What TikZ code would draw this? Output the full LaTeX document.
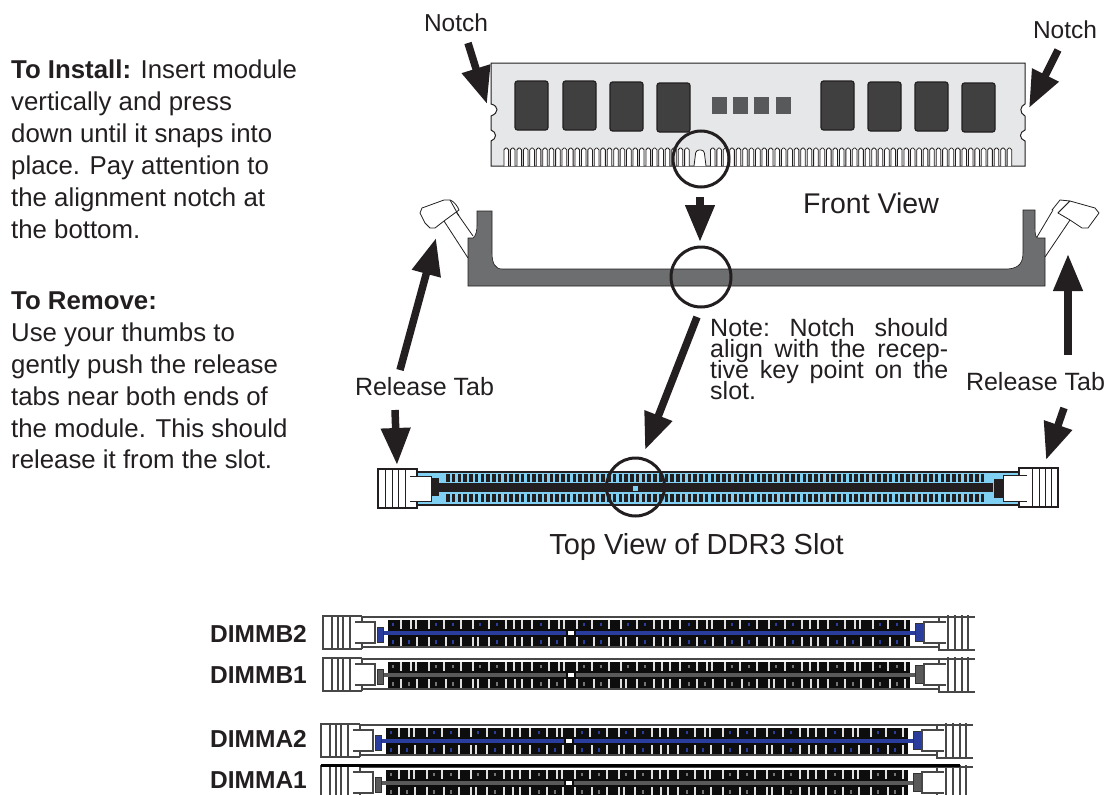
\documentclass[tikz,border=0pt]{standalone}
\usepackage{fontspec}
\setmainfont{Liberation Sans}
\usetikzlibrary{arrows.meta}
\definecolor{ink}{HTML}{231F20}
\definecolor{modgray}{HTML}{E6E7E8}
\definecolor{chipgray}{HTML}{404041}
\definecolor{sqgray}{HTML}{58595B}
\definecolor{slotgray}{HTML}{6D6E70}
\definecolor{keyblue}{HTML}{80D0F4}
\definecolor{dimblue}{HTML}{2A3C9C}
\tikzset{
 bigarrow/.style={draw=ink,line width=7.5pt,-{Triangle[length=37pt,width=28pt,fill=ink]}},
 ringmark/.style={draw=ink,line width=3pt,circle,minimum size=#1,inner sep=0pt,fill=none},
 lbl/.style={font=\fontsize{24.5}{26}\selectfont,text=ink,inner sep=0pt},
 para/.style={font=\fontsize{25.8}{31.9}\selectfont,text=ink,inner sep=0pt,anchor=north west,align=left},
 dimlbl/.style={font=\fontsize{24.5}{28}\selectfont\bfseries,text=ink,inner sep=0pt,anchor=west},
 chip/.style={draw=ink,fill=chipgray,line width=1.2pt,rounded corners=2.5pt},
 thinline/.style={draw=ink,line width=0.8pt,fill=white,line join=round},
 slotline/.style={draw=black!72,line width=1.4pt},
 tickmark/.style={fill=black!12}
}
\newcommand{\dimmslot}[4]{%
 % #1 dx, #2 centre y, #3 bar colour, #4 dot colour
 \begin{scope}[shift={(#1,#2)}]
  \draw[slotline] (38,-16)--(652,-16);
  \draw[slotline] (38,14)--(616,14);
  \fill[black!95] (65,-13) rectangle (587,13);
  \begin{scope}
   \clip (65,-14) rectangle (587,14);
   \foreach \kk in {-148,0,148,296,444}{
    \foreach \xx in {0,8,16,26,43,53,58,71,86,103,115,131}{
      \fill[tickmark] (182+\kk+\xx,-13) rectangle ++(2,9);}
    \foreach \xx in {0,9,16,26,43,59,71,88,103,115,120,131}{
      \fill[tickmark] (182+\kk+\xx,4) rectangle ++(2,9);}
    \foreach \xx in {35,78,95,122,139}{
      \fill[#4] (182+\kk+\xx,-10.5) rectangle ++(2,3.5);}
    \foreach \xx in {35,51,78,95,139}{
      \fill[#4] (182+\kk+\xx,7) rectangle ++(2,3.5);}
   }
  \end{scope}
  \fill[#3] (60,-2.3) rectangle (243,2.3);
  \fill[#3] (253,-2.3) rectangle (592,2.3);
  \fill[black!95] (243,-2.3) rectangle (253,2.3);
  \fill[white] (245,-2) rectangle (251,2);
  % left clip
  \draw[slotline,line width=1.6pt] (39,-17)--(0,-17)--(0,16)--(39,16);
  \draw[slotline] (39,-17)--(39,-11);
  \draw[slotline] (39,16)--(39,10);
  \draw[slotline,fill=white,line width=1.6pt] (32,-11)--(52,-11)--(52,10)--(32,10);
  \foreach \xx in {9,15,20,27}{\draw[slotline,line width=1.2pt] (\xx,-17)--(\xx,16);}
  \fill[#3,draw=black!80,line width=.8pt] (54,-6) rectangle (60,9);
  % right clip
  \fill[#3,draw=black!80,line width=.8pt] (592,-10) rectangle (601,8);
  \draw[slotline,fill=white,line width=1.6pt] (623,-11)--(601,-11)--(601,10)--(623,10);
  \draw[slotline] (616,-16)--(616,-11);
  \draw[slotline,line width=1.6pt] (616,10)--(616,17)--(652,17);
  \foreach \xx in {625,632,639,645}{\draw[slotline,line width=1.2pt] (\xx,-18)--(\xx,17);}
 \end{scope}}
\begin{document}
\begin{tikzpicture}[x=1pt,y=-1pt]
\useasboundingbox (0,0) rectangle (1106,795);
% texts
\node[para] (inst) at (11,60) {\textbf{To Install:} Insert module\\vertically and press\\down until it snaps into\\place. Pay attention to\\the alignment notch at\\the bottom.};
\node[para] (rem) at (11,291.5) {\textbf{To Remove:}\\Use your thumbs to\\gently push the release\\tabs near both ends of\\the module.  This should\\release it from the slot.};
% module
\draw[draw=ink,line width=1pt,fill=modgray] (491,63)--(1025,63)--(1025,104)
  .. controls (1020,106) and (1019,113) .. (1025,116) -- (1025,130)
  .. controls (1019,132) and (1019,139) .. (1025,141) -- (1025,166)--(491,166)--(491,141)
  .. controls (497,139) and (497,132) .. (491,130) -- (491,116)
  .. controls (499,113) and (499,106) .. (491,104) --cycle;
\foreach \cx/\cy in {515/81,563/81,610/82,657/83,821/81,868/82,915/82,962/83}{\path[chip] (\cx,\cy) rectangle ++(33,49);}
\foreach \sx in {712,733,754,776}{\fill[sqgray] (\sx,97) rectangle ++(15,17);}
\foreach \tx in {504,510.45,...,1010}{
 \ifdim\tx pt<688pt \draw[draw=ink,line width=.8pt,fill=white,rounded corners=1.8pt] (\tx,166)--(\tx,148)--(\tx+4.6,148)--(\tx+4.6,166);\else\ifdim\tx pt>708pt \draw[draw=ink,line width=.8pt,fill=white,rounded corners=1.8pt] (\tx,166)--(\tx,148)--(\tx+4.6,148)--(\tx+4.6,166);\fi\fi}
\draw[draw=ink,line width=.8pt,fill=white,rounded corners=3pt] (694,166)--(696,150)--(704,150)--(706,166);
\node[ringmark=56pt] (modring) at (701,159) {};
\node[lbl] (notchl) at (456,23) {Notch};
\node[lbl] (notchr) at (1065,30) {Notch};
\node[lbl,font=\fontsize{28.5}{32}\selectfont] (front) at (871,203) {Front View};
\coordinate (al) at (468,43); \coordinate (atl) at (487,104);
\coordinate (ar) at (1058,50); \coordinate (atr) at (1029,108);
\draw[bigarrow] (al)--(atl);
\draw[bigarrow] (ar)--(atr);
% slot front view
\fill[slotgray,draw=ink,line width=.6pt] (468,286)--(468,238)--(473,238)
 .. controls (476,236) and (477,230) .. (477,225) --(477,211)--(492,211)--(492,253)
 .. controls (492,263) and (495,269) .. (502,269) -- (1008,269)
 .. controls (1020,268) and (1023,262) .. (1023,252) -- (1023,210)--(1035,210)--(1035,228)
 .. controls (1035,235) and (1036,238) .. (1038,238) --(1045,238)--(1045,286)--cycle;
\draw[thinline,fill=none] (468,258)--(444,221);
\draw[thinline,fill=none] (473,236)--(452,206);
\draw[thinline] (444,221)--(435,228)--(430,228)--(425,223)--(420,213)--(422,208)--(444,200)--(450,200)
  .. controls (454,201) and (458,207) .. (459,210) -- (444,221);
\draw[thinline,fill=none] (450,200)--(459,216);
\draw[thinline,fill=none] (1045,257)--(1070,220);
\draw[thinline,fill=none] (1037,237)--(1053,210);
\draw[thinline] (1053,210)--(1052,210)--(1060,200)--(1070,201)--(1058,213);
\draw[thinline] (1058,213)--(1070,201)--(1095,208)--(1099,213)--(1088,228)--(1082,228)--(1070,220)--cycle;
\node[ringmark=60pt] (slotring) at (701,277) {};
\coordinate (ad) at (700,197); \coordinate (atd) at (700,242);
\draw[bigarrow] (ad)--(atd);
\coordinate (atab) at (400,370); \coordinate (atabt) at (436,238);
\coordinate (btab) at (1068,355); \coordinate (btabt) at (1068,254);
\draw[bigarrow] (atab)--(atabt);
\draw[bigarrow] (btab)--(btabt);
\node[lbl,font=\fontsize{25}{28}\selectfont] (reltl) at (424.5,387) {Release Tab};
\node[lbl,font=\fontsize{25}{28}\selectfont] (reltr) at (1035.5,382) {Release Tab};
\node[lbl,anchor=north west,font=\fontsize{25}{21.2}\selectfont] (note) at (710,318) {\vbox{\baselineskip=21.2pt \lineskiplimit=-100pt \lineskip=0pt
 \hbox to 238pt{Note:\hfil Notch\hfil should}
 \hbox to 238pt{align\hfil with\hfil the\hfil recep-}
 \hbox to 238pt{tive\hfil key\hfil point\hfil on\hfil the}
 \hbox{slot.}}};
% top view slot
\draw[draw=ink,line width=1.2pt,fill=keyblue] (417,472) rectangle (1020,505);
\foreach \tx in {446,451.75,...,986}{
 \fill[ink] (\tx,474) rectangle ++(3.6,8);
 \fill[ink] (\tx,494) rectangle ++(3.6,8);}
\fill[ink] (432,483) rectangle (993,492);
\fill[keyblue] (632.5,486) rectangle ++(5.5,5);
\fill[ink] (432,478) rectangle (439,496);
\fill[ink] (994,479) rectangle (1003,498);
\draw[draw=ink,line width=1.2pt,fill=white] (378,469) rectangle (417,508);
\foreach \xx in {385,392,398,405}{\draw[draw=ink,line width=1pt] (\xx,469)--(\xx,508);}
\fill[white] (410,476) rectangle (431,501);
\draw[draw=ink,line width=1pt] (410,476)--(431,476)--(431,501)--(410,501);
\draw[draw=ink,line width=1.2pt,fill=white] (1019,468) rectangle (1058,507);
\foreach \xx in {1032,1039,1045,1051}{\draw[draw=ink,line width=1pt] (\xx,468)--(\xx,507);}
\fill[white] (1003,475) rectangle (1027,501);
\draw[draw=ink,line width=1pt] (1027,475)--(1003,475)--(1003,501)--(1027,501);
\node[ringmark=58pt] (topring) at (635.5,487) {};
\coordinate (ctr) at (697,317); \coordinate (ctrt) at (645,450);
\coordinate (dl) at (395,410); \coordinate (dlt) at (397,465);
\coordinate (dr) at (1064,408); \coordinate (drt) at (1046,460);
\draw[bigarrow] (ctr)--(ctrt);
\draw[bigarrow] (dl)--(dlt);
\draw[bigarrow] (dr)--(drt);
\node[lbl,font=\fontsize{29}{32}\selectfont] (topv) at (696.5,547) {Top View of DDR3 Slot};
% DIMMs
\node[dimlbl] (b2) at (210,634) {DIMMB2};
\node[dimlbl] (b1) at (210,675) {DIMMB1};
\node[dimlbl] (a2) at (210,739) {DIMMA2};
\node[dimlbl] (a1) at (210,780) {DIMMA1};
\dimmslot{323}{633}{dimblue}{dimblue}
\dimmslot{323}{675}{black!65}{black!55}
\dimmslot{321}{741}{dimblue}{dimblue}
\dimmslot{321}{783}{black!65}{black!55}
\draw[draw=black,line width=2.5pt] (321,765.5)--(960,765.5);
\end{tikzpicture}
\end{document}
